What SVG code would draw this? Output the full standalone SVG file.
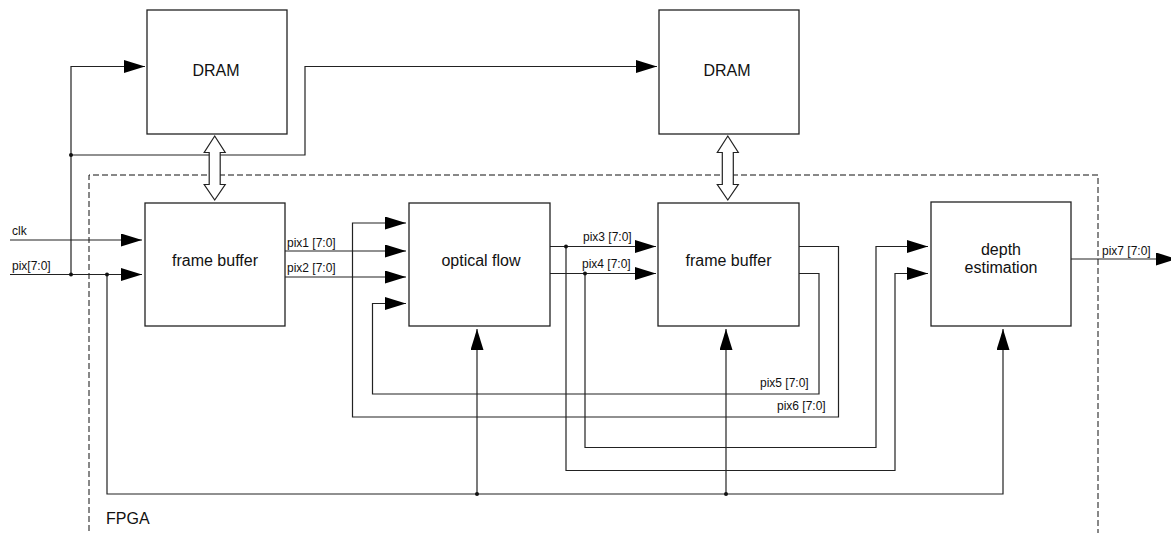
<svg xmlns="http://www.w3.org/2000/svg" width="1171" height="533" viewBox="0 0 1171 533">
  <style>
    .box { fill: #ffffff; stroke: #222222; stroke-width: 1.3; }
    .wire { fill: none; stroke: #222222; stroke-width: 1.2; }
    .arr { marker-end: url(#head); }
    .dot { fill: #111111; }
    .bus { fill: #ffffff; stroke: #222222; stroke-width: 1.2; stroke-linejoin: miter; }
    .fpga { fill: none; stroke: #111111; stroke-width: 1; stroke-dasharray: 6 3; }
    .big { font-family: "Liberation Sans", Arial, sans-serif; font-size: 16px; fill: #111111; text-anchor: middle; }
    .small { font-family: "Liberation Sans", Arial, sans-serif; font-size: 12px; fill: #111111; }
  </style>
  <defs>
    <marker id="head" markerUnits="userSpaceOnUse" markerWidth="22" markerHeight="14" refX="21" refY="6.5" orient="auto">
      <path d="M0,0 L21,6.5 L0,13 Z" fill="#000000"/>
    </marker>
  </defs>

  <rect width="1171" height="533" fill="#ffffff"/>

  <!-- FPGA boundary (open at the bottom) -->
  <g id="fpga">
    <path class="fpga" d="M89,540 V175 H1098 V540"/>
    <text class="small" x="106" y="524" style="font-size:16px">FPGA</text>
  </g>

  <!-- signal wiring -->
  <g id="connectors">
    <!-- external inputs -->
    <path class="wire arr" d="M10,240 H142"/>
    <path class="wire arr" d="M10,274.5 H142"/>
    <!-- pixel stream to the DRAMs -->
    <path class="wire arr" d="M71,274.5 V66.5 H145"/>
    <path class="wire arr" d="M71,155 H305 V66.5 H657"/>
    <!-- shared bus along the bottom -->
    <path class="wire arr" d="M107,274.5 V494 H1003 V329"/>
    <path class="wire arr" d="M477,494 V329"/>
    <path class="wire arr" d="M726,494 V329"/>
    <!-- frame buffer to optical flow -->
    <path class="wire arr" d="M285,251 H406"/>
    <path class="wire arr" d="M285,277 H406"/>
    <!-- optical flow to frame buffer -->
    <path class="wire arr" d="M550,246.5 H656"/>
    <path class="wire arr" d="M550,273.5 H656"/>
    <!-- taps to depth estimation -->
    <path class="wire arr" d="M566,246.5 V470.5 H895 V273.5 H928"/>
    <path class="wire arr" d="M585,273.5 V447.5 H876 V246.5 H928"/>
    <!-- feedback from the second frame buffer -->
    <path class="wire arr" d="M799,246.5 H838.5 V417 H352.5 V223 H406"/>
    <path class="wire arr" d="M799,273.5 H819 V394 H372.5 V303.5 H406"/>
    <!-- output -->
    <path class="wire arr" d="M1071,259 H1177"/>

    <!-- junctions -->
    <circle class="dot" cx="71" cy="274.5" r="2"/>
    <circle class="dot" cx="71" cy="155" r="2"/>
    <circle class="dot" cx="107" cy="274.5" r="2"/>
    <circle class="dot" cx="477" cy="494" r="2"/>
    <circle class="dot" cx="726" cy="494" r="2"/>
    <circle class="dot" cx="566" cy="246.5" r="2"/>
    <circle class="dot" cx="585" cy="273.5" r="2"/>

    <!-- bidirectional memory buses -->
    <polygon class="bus" points="214.7,136 225.2,152.5 220.2,152.5 220.2,184.5 225.2,184.5 214.7,200 204.2,184.5 209.2,184.5 209.2,152.5 204.2,152.5"/>
    <polygon class="bus" points="727.8,136 738.3,152.5 733.3,152.5 733.3,184.5 738.3,184.5 727.8,200 717.3,184.5 722.3,184.5 722.3,152.5 717.3,152.5"/>

    <!-- wire labels -->
    <text class="small" x="12" y="235">clk</text>
    <text class="small" x="12" y="269.5">pix[7:0]</text>
    <text class="small" x="287" y="246.5">pix1 [7:0]</text>
    <text class="small" x="287" y="272">pix2 [7:0]</text>
    <text class="small" x="583" y="240.5">pix3 [7:0]</text>
    <text class="small" x="582" y="267.5">pix4 [7:0]</text>
    <text class="small" x="760" y="387">pix5 [7:0]</text>
    <text class="small" x="777" y="410">pix6 [7:0]</text>
    <text class="small" x="1102" y="254.5">pix7 [7:0]</text>
  </g>

  <g id="dram1">
    <rect class="box" x="147" y="10" width="140" height="124"/>
    <text class="big" x="216" y="76">DRAM</text>
  </g>
  <g id="dram2">
    <rect class="box" x="659" y="10" width="140" height="124"/>
    <text class="big" x="727" y="76">DRAM</text>
  </g>
  <g id="frame-buffer-1">
    <rect class="box" x="145" y="203" width="140" height="123"/>
    <text class="big" x="215" y="266">frame buffer</text>
  </g>
  <g id="optical-flow">
    <rect class="box" x="409" y="203" width="141" height="123"/>
    <text class="big" x="481" y="266">optical flow</text>
  </g>
  <g id="frame-buffer-2">
    <rect class="box" x="658" y="203" width="141" height="123"/>
    <text class="big" x="728.5" y="266">frame buffer</text>
  </g>
  <g id="depth-estimation">
    <rect class="box" x="931" y="202" width="140" height="124"/>
    <text class="big" x="1001" y="255">depth</text>
    <text class="big" x="1001" y="272.5">estimation</text>
  </g>
</svg>
